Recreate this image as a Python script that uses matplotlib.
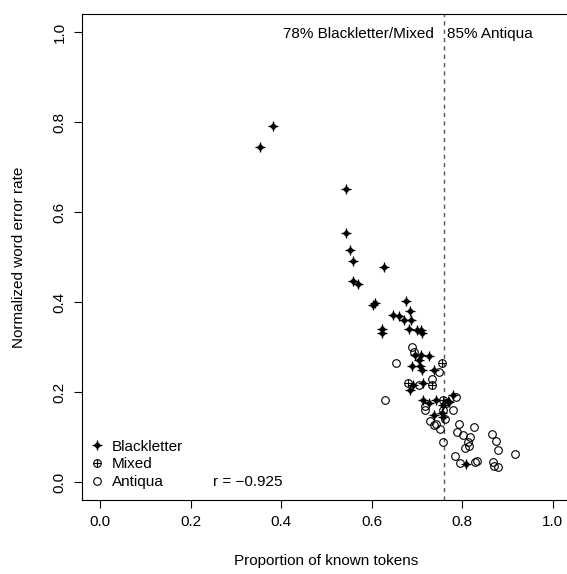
import matplotlib
matplotlib.use("Agg")
import matplotlib.pyplot as plt
from matplotlib.lines import Line2D

plt.rcParams["font.family"] = ["Liberation Sans", "DejaVu Sans"]
plt.rcParams["font.size"] = 11

# (proportion of known tokens, normalized word error rate)
blackletter_x = [0.353, 0.383, 0.543, 0.543, 0.552, 0.558, 0.628, 0.558, 0.569, 0.603,
                 0.608, 0.676, 0.685, 0.648, 0.661, 0.672, 0.687, 0.683, 0.624, 0.624,
                 0.709, 0.711, 0.700, 0.696, 0.709, 0.726, 0.706, 0.690, 0.707, 0.712,
                 0.737, 0.692, 0.714, 0.684, 0.714, 0.728, 0.743, 0.770, 0.779, 0.738,
                 0.755, 0.759, 0.808, 0.757, 0.772]
blackletter_y = [0.745, 0.792, 0.652, 0.554, 0.515, 0.492, 0.478, 0.446, 0.440, 0.394,
                 0.398, 0.403, 0.381, 0.372, 0.368, 0.359, 0.359, 0.341, 0.341, 0.331,
                 0.337, 0.331, 0.337, 0.283, 0.283, 0.279, 0.272, 0.257, 0.257, 0.249,
                 0.248, 0.216, 0.220, 0.205, 0.183, 0.175, 0.183, 0.179, 0.194, 0.150,
                 0.153, 0.144, 0.040, 0.172, 0.177]

mixed_x = [0.755, 0.681, 0.733, 0.757]
mixed_y = [0.264, 0.220, 0.216, 0.183]

antiqua_x = [0.655, 0.630, 0.690, 0.693, 0.749, 0.733, 0.718, 0.718, 0.757, 0.781,
             0.762, 0.729, 0.737, 0.743, 0.751, 0.759, 0.786, 0.793, 0.827, 0.788,
             0.802, 0.818, 0.814, 0.807, 0.815, 0.866, 0.875, 0.880, 0.916, 0.785,
             0.796, 0.829, 0.834, 0.869, 0.871, 0.879, 0.764, 0.705]
antiqua_y = [0.265, 0.183, 0.300, 0.290, 0.245, 0.228, 0.168, 0.160, 0.160, 0.160,
             0.139, 0.135, 0.126, 0.130, 0.117, 0.088, 0.190, 0.128, 0.123, 0.111,
             0.105, 0.099, 0.090, 0.076, 0.079, 0.107, 0.091, 0.071, 0.063, 0.058,
             0.042, 0.045, 0.047, 0.044, 0.036, 0.033, 0.175, 0.215]

threshold = 0.76
r_value = -0.925
ticks = [0.0, 0.2, 0.4, 0.6, 0.8, 1.0]
tick_labels = ["0.0", "0.2", "0.4", "0.6", "0.8", "1.0"]

fig = plt.figure(figsize=(5.67, 5.74), dpi=100)
ax = fig.add_axes([82 / 567, 74 / 574, 488.6 / 567, 486 / 574])
ax.set_xlim(-0.04, 1.04)
ax.set_ylim(-0.04, 1.04)

ax.axvline(threshold, color="#555555", lw=1, ls=(0, (3, 3)))

ax.plot(antiqua_x, antiqua_y, ls="none", marker="o", ms=5.5, mfc="none", mec="black", mew=0.8)
ax.plot(mixed_x, mixed_y, ls="none", marker="o", ms=5.5, mfc="none", mec="black", mew=0.8)
ax.plot(mixed_x, mixed_y, ls="none", marker="+", ms=5.5, mec="black", mew=0.8)
ax.plot(blackletter_x, blackletter_y, ls="none", marker="D", ms=3.4, mfc="black", mec="black", mew=0.5)
ax.plot(blackletter_x, blackletter_y, ls="none", marker="+", ms=7, mec="black", mew=0.9)

ax.text(0.738, 0.995, "78% Blackletter/Mixed", ha="right", va="center")
ax.text(0.767, 0.995, "85% Antiqua", ha="left", va="center")
ax.text(0.25, 0.0, f"r = \u2212{abs(r_value):.3f}", ha="left", va="center")

h_black = (Line2D([], [], ls="none", marker="D", ms=3.4, mfc="black", mec="black", mew=0.5),
           Line2D([], [], ls="none", marker="+", ms=7, mec="black", mew=0.9))
h_mixed = (Line2D([], [], ls="none", marker="o", ms=5.5, mfc="none", mec="black", mew=0.8),
           Line2D([], [], ls="none", marker="+", ms=5.5, mec="black", mew=0.8))
h_anti = Line2D([], [], ls="none", marker="o", ms=5.5, mfc="none", mec="black", mew=0.8)
ax.legend([h_black, h_mixed, h_anti], ["Blackletter", "Mixed", "Antiqua"],
          loc="lower left", bbox_to_anchor=(0.015, 0.022), frameon=False,
          borderpad=0, borderaxespad=0, handlelength=1.0, handletextpad=0.48,
          labelspacing=0.25, fontsize=11)

ax.set_xticks(ticks)
ax.set_xticklabels(tick_labels)
ax.set_yticks(ticks)
ax.set_yticklabels(tick_labels, rotation=90, va="center")
ax.tick_params(direction="out", length=6, width=0.8, pad=5)
for s in ax.spines.values():
    s.set_linewidth(0.8)

ax.set_xlabel("Proportion of known tokens", labelpad=18)
ax.set_ylabel("Normalized word error rate", labelpad=19)

fig.savefig("out.png", dpi=100)
